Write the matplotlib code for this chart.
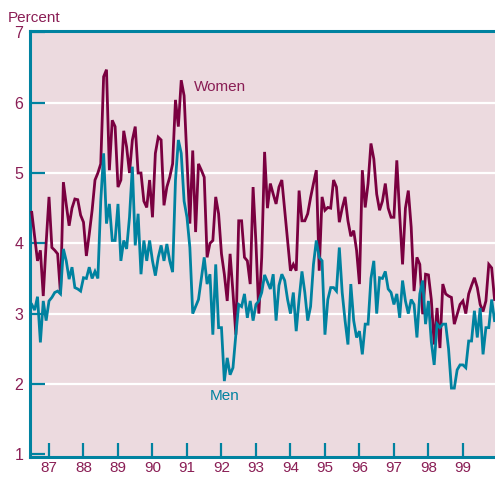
import matplotlib
matplotlib.use("Agg")
import matplotlib.pyplot as plt
import numpy as np

# Monthly unemployment rates, Jul 1986 - Dec 1999
women = [
    4.44, 4.10, 3.75, 3.90, 3.25, 4.00, 4.66, 3.94, 3.90, 3.85,
    3.28, 4.87, 4.55, 4.25, 4.50, 4.63, 4.62, 4.40, 4.30, 3.82,
    4.13, 4.47, 4.90, 5.00, 5.13, 6.37, 6.47, 5.04, 5.75, 5.66,
    4.80, 4.90, 5.60, 5.37, 5.00, 5.47, 5.66, 5.00, 5.00, 4.60,
    4.51, 4.90, 4.37, 5.28, 5.51, 5.47, 4.54, 4.80, 4.94, 5.13,
    6.04, 5.66, 6.32, 6.10, 5.20, 4.28, 5.32, 4.16, 5.13, 5.04,
    4.94, 3.80, 4.00, 4.04, 4.66, 4.42, 3.85, 3.56, 3.18, 3.85,
    3.30, 2.70, 4.32, 4.32, 3.80, 3.75, 3.42, 4.80, 4.00, 3.00,
    3.80, 5.30, 4.50, 4.85, 4.70, 4.56, 4.80, 4.90, 4.47, 4.04,
    3.61, 3.70, 3.61, 4.75, 4.32, 4.32, 4.42, 4.65, 4.85, 5.04,
    3.61, 4.66, 4.47, 4.51, 4.50, 4.90, 4.80, 4.30, 4.50, 4.66,
    4.32, 4.10, 4.18, 3.90, 3.42, 5.04, 4.51, 4.85, 5.42, 5.20,
    4.70, 4.47, 4.60, 4.85, 4.50, 4.37, 4.37, 5.18, 4.40, 3.70,
    4.50, 4.75, 4.23, 3.32, 3.80, 3.70, 2.99, 3.56, 3.55, 3.20,
    2.56, 3.08, 2.51, 3.42, 3.28, 3.25, 3.23, 2.85, 2.99, 3.13,
    3.18, 3.00, 3.28, 3.40, 3.51, 3.37, 3.13, 3.03, 3.18, 3.70,
    3.65, 3.20,
]
men = [
    3.13, 3.05, 3.24, 2.59, 3.18, 2.90, 3.18, 3.23, 3.30, 3.32,
    3.28, 3.92, 3.75, 3.49, 3.66, 3.37, 3.35, 3.32, 3.51, 3.50,
    3.66, 3.50, 3.60, 3.50, 4.60, 5.28, 4.28, 4.56, 4.04, 4.04,
    4.56, 3.75, 4.04, 3.92, 4.37, 5.09, 3.97, 4.42, 3.56, 4.04,
    3.75, 4.04, 3.75, 3.54, 3.80, 3.97, 3.75, 3.99, 3.75, 3.59,
    4.90, 5.47, 5.28, 4.60, 4.37, 3.94, 3.00, 3.10, 3.20, 3.50,
    3.80, 3.42, 3.56, 2.70, 3.70, 2.80, 2.80, 2.04, 2.37, 2.13,
    2.23, 2.70, 3.13, 3.10, 3.28, 2.94, 3.18, 2.90, 3.13, 3.18,
    3.30, 3.55, 3.45, 3.35, 3.56, 2.90, 3.40, 3.56, 3.47, 3.20,
    3.00, 3.30, 2.75, 3.20, 3.60, 3.30, 2.90, 3.10, 3.70, 4.04,
    3.80, 3.75, 2.70, 3.20, 3.37, 3.37, 3.32, 3.94, 3.30, 2.90,
    2.56, 3.42, 2.90, 2.66, 2.75, 2.42, 2.85, 2.85, 3.50, 3.75,
    3.00, 3.51, 3.50, 3.60, 3.35, 3.30, 3.13, 3.28, 2.94, 3.47,
    3.18, 3.00, 3.20, 3.13, 2.66, 3.28, 3.47, 2.85, 3.18, 2.60,
    2.27, 2.85, 2.80, 2.85, 2.85, 2.50, 1.94, 1.94, 2.20, 2.27,
    2.27, 2.23, 2.61, 2.61, 3.04, 2.66, 3.08, 2.42, 2.80, 2.80,
    3.20, 2.90,
]
years = list(range(1987, 2000))
year_labels = [f"{y % 100:02d}" for y in years]
y_ticks = [1, 2, 3, 4, 5, 6, 7]

t = 1986.5 + np.arange(len(women)) / 12

bg = "#ecdadf"
maroon = "#7a0040"
teal = "#0082a0"
label_col = "#8a1e55"

plt.rcParams["font.family"] = ["Liberation Sans Narrow", "Liberation Sans", "DejaVu Sans"]

fig = plt.figure(figsize=(4.95, 4.78), dpi=100)
ax = fig.add_axes([30 / 495, 1 - 456.5 / 478, 1 - 30 / 495, (456.5 - 31) / 478])
ax.set_facecolor(bg)

for v in [2, 3, 4, 5, 6]:
    ax.axhline(v, color="white", lw=1.6, zorder=1)

ax.plot(t, women, color=maroon, lw=2.0, zorder=3, solid_joinstyle="miter")
ax.plot(t, men, color=teal, lw=2.0, zorder=4, solid_joinstyle="miter")

ax.set_xlim(1986.449, 1999.93)
ax.set_ylim(0.967, 7.02)

ax.set_xticks(years)
ax.set_xticklabels(year_labels)
ax.set_yticks(y_ticks)
ax.tick_params(axis="x", direction="in", length=10, width=1.6, color=teal,
               labelcolor=label_col, labelsize=11, pad=3)
ax.tick_params(axis="y", direction="in", length=11, width=1.6, color=teal,
               labelcolor=label_col, labelsize=11.5, pad=8)
for lab in ax.get_yticklabels():
    lab.set_horizontalalignment("center")

for side in ["left", "top", "bottom"]:
    ax.spines[side].set_color(teal)
    ax.spines[side].set_linewidth(2.2)
ax.spines["right"].set_visible(False)

ax.text(1991.96, 6.22, "Women", color=label_col, fontsize=11, ha="center", va="center")
ax.text(1992.1, 1.83, "Men", color=teal, fontsize=11, ha="center", va="center")
fig.text(8 / 495, 1 - 18 / 478, "Percent", color=label_col, fontsize=11, ha="left", va="center")

fig.savefig("out.png", dpi=100)
